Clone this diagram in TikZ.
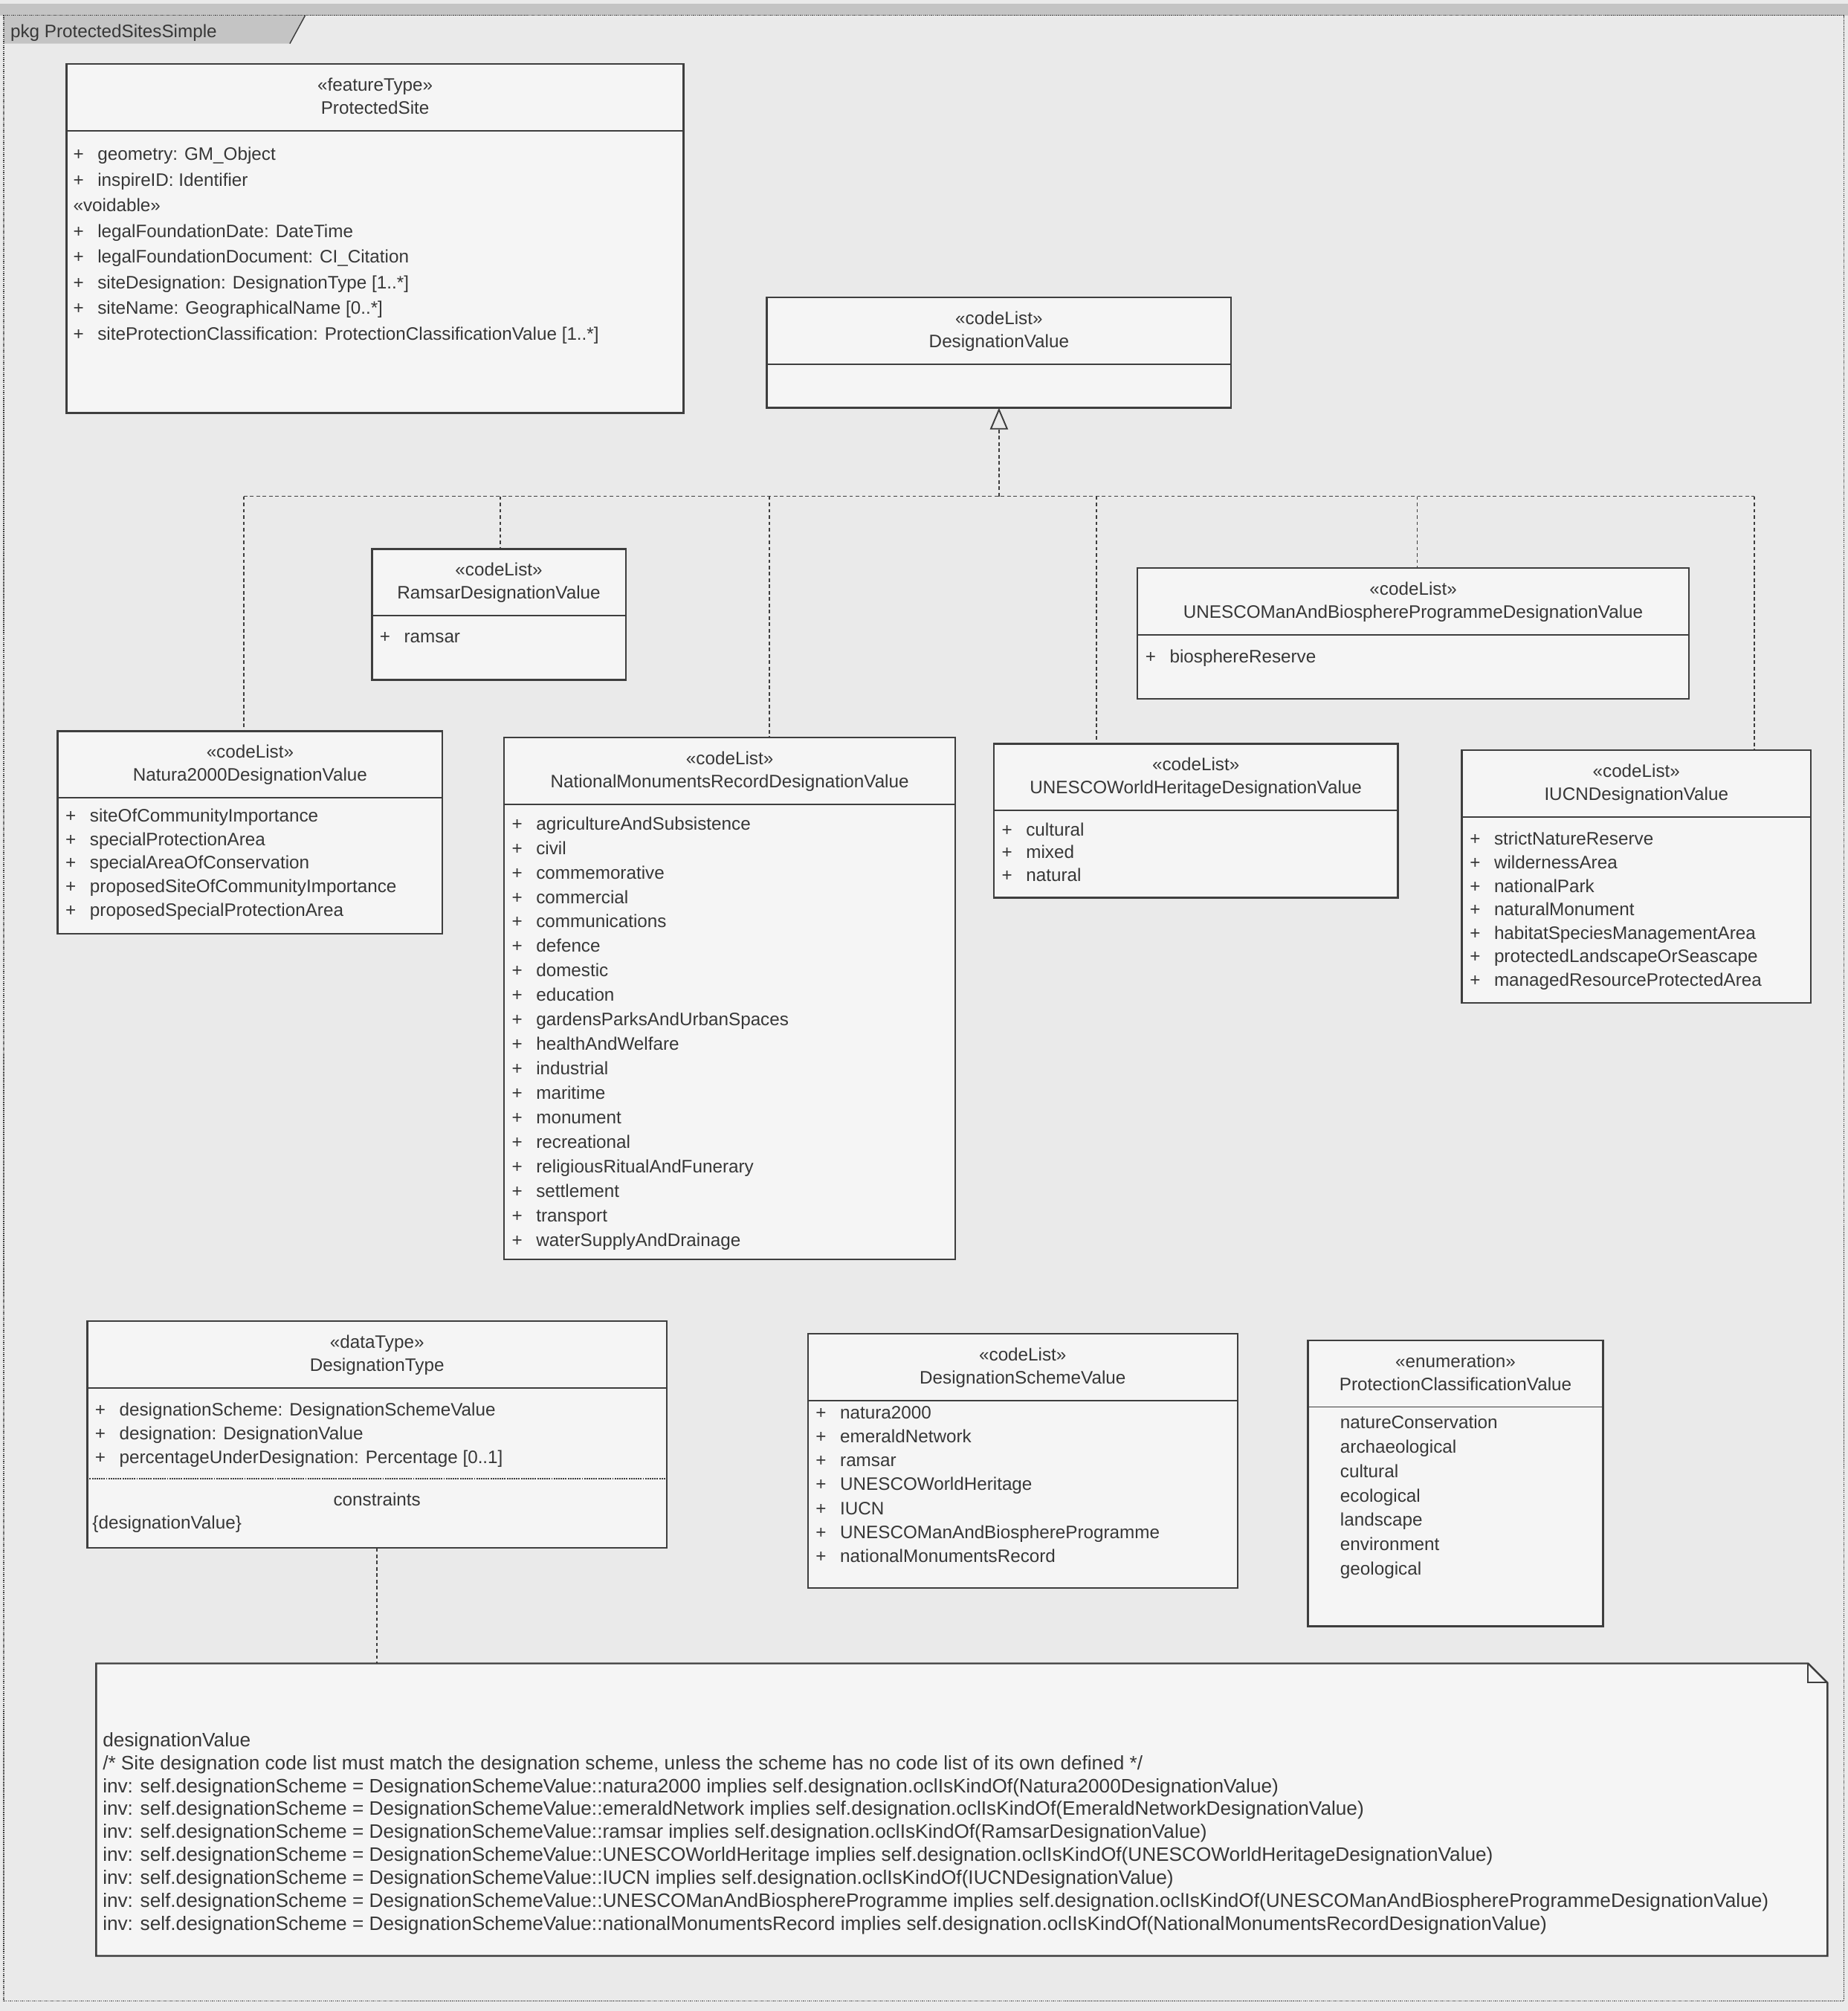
\documentclass[tikz,border=0pt]{standalone}
\usepackage{fontspec}
\setmainfont{Liberation Sans}
\usetikzlibrary{arrows.meta,fit,calc}
\definecolor{bgc}{RGB}{234,234,234}
\definecolor{boxc}{RGB}{245,245,245}
\definecolor{lc}{RGB}{62,62,62}
\definecolor{tc}{RGB}{55,55,55}
\definecolor{tabc}{RGB}{196,196,196}
\newcommand\vis{\makebox[27pt][l]{+}}
\newcommand\nov{\makebox[27pt][l]{}}
\newcommand\umlclass[7]{%
  \node[cls, fit={(#2,#3) (#4,#5)}] (#1) {};
  \node[hdr] (#1-st) at ({(#2+#4)/2},{#3+21}) {#6};
  \node[hdr] (#1-nm) at ({(#2+#4)/2},{#3+39}) {#7};
  \draw[div] ($(#1.north west)+(0,52)$) -- ($(#1.north east)+(0,52)$);
}
\newcommand\umlitems[5]{%
  \foreach \t [count=\i] in {#5} {\node[itm] (#1-\i) at (#2,{#3+(\i-1)*#4}) {\t};}
}
\begin{document}
\begin{tikzpicture}[x=0.05cm, y=-0.05cm,
  cls/.style={draw=lc, line width=2pt, fill=boxc, inner sep=0pt, outer sep=0pt},
  conn/.style={draw=lc, line width=1.3pt, dash pattern=on 4pt off 3pt},
  div/.style={draw=lc, line width=1.6pt},
  hdr/.style={anchor=base, inner sep=0pt, text=tc, font=\fontsize{20}{24}\selectfont},
  itm/.style={anchor=base west, inner sep=0pt, text=tc, font=\fontsize{20}{24}\selectfont},
  ocl/.style={anchor=base west, inner sep=0pt, text=tc, font=\fontsize{21.6}{24}\selectfont},
]
\useasboundingbox (0,0) rectangle (1441,1568);
\fill[bgc] (0,0) rectangle (1441,1568);

% package frame
\fill[tabc] (0,3) rectangle (1441,12);
\fill[tabc] (3,12) -- (238,12) -- (226,34) -- (3,34) -- cycle;
\draw[lc, line width=1.2pt] (238,12) -- (226,34);
\node[fit={(3,12) (1438,1560)}, inner sep=0pt, draw=lc, line width=1.2pt, densely dotted] (frame) {};
\node[itm] (tab) at (8,29) {pkg ProtectedSitesSimple};

% junctions of the generalization tree
\coordinate (j1) at (190,387);
\coordinate (j2) at (390,387);
\coordinate (j3) at (600,387);
\coordinate (jb) at (779,387);
\coordinate (j4) at (855,387);
\coordinate (j5) at (1105,387);
\coordinate (j6) at (1368,387);

% ProtectedSite
\umlclass{ps}{52}{50}{533}{322}{«featureType»}{ProtectedSite}
\umlitems{psi}{57}{125}{20}{{\vis geometry: GM\_Object},{\vis inspireID: Identifier},{«voidable»},{\vis legalFoundationDate: DateTime},{\vis legalFoundationDocument: CI\_Citation},{\vis siteDesignation: DesignationType [1..*]},{\vis siteName: GeographicalName [0..*]},{\vis siteProtectionClassification: ProtectionClassificationValue [1..*]}}

% DesignationValue
\umlclass{dv}{598}{232}{960}{318}{«codeList»}{DesignationValue}

% Ramsar
\umlclass{ram}{290}{428}{488}{530}{«codeList»}{RamsarDesignationValue}
\umlitems{rami}{296}{501}{18}{{\vis ramsar}}

% UNESCO MAB
\umlclass{mab}{887}{443}{1317}{545}{«codeList»}{UNESCOManAndBiosphereProgrammeDesignationValue}
\umlitems{mabi}{893}{517}{18}{{\vis biosphereReserve}}

% Natura2000
\umlclass{n2k}{45}{570}{345}{728}{«codeList»}{Natura2000DesignationValue}
\umlitems{n2ki}{51}{641}{18.3}{{\vis siteOfCommunityImportance},{\vis specialProtectionArea},{\vis specialAreaOfConservation},{\vis proposedSiteOfCommunityImportance},{\vis proposedSpecialProtectionArea}}

% National Monuments Record
\umlclass{nmr}{393}{575}{745}{982}{«codeList»}{NationalMonumentsRecordDesignationValue}
\umlitems{nmri}{399}{647}{19.1}{{\vis agricultureAndSubsistence},{\vis civil},{\vis commemorative},{\vis commercial},{\vis communications},{\vis defence},{\vis domestic},{\vis education},{\vis gardensParksAndUrbanSpaces},{\vis healthAndWelfare},{\vis industrial},{\vis maritime},{\vis monument},{\vis recreational},{\vis religiousRitualAndFunerary},{\vis settlement},{\vis transport},{\vis waterSupplyAndDrainage}}

% UNESCO World Heritage
\umlclass{wh}{775}{580}{1090}{700}{«codeList»}{UNESCOWorldHeritageDesignationValue}
\umlitems{whi}{781}{652}{17.5}{{\vis cultural},{\vis mixed},{\vis natural}}

% IUCN
\umlclass{iucn}{1140}{585}{1412}{782}{«codeList»}{IUCNDesignationValue}
\umlitems{iucni}{1146}{659}{18.3}{{\vis strictNatureReserve},{\vis wildernessArea},{\vis nationalPark},{\vis naturalMonument},{\vis habitatSpeciesManagementArea},{\vis protectedLandscapeOrSeascape},{\vis managedResourceProtectedArea}}

% DesignationType
\umlclass{dt}{68}{1030}{520}{1207}{«dataType»}{DesignationType}
\umlitems{dti}{74}{1104}{18.5}{{\vis designationScheme: DesignationSchemeValue},{\vis designation: DesignationValue},{\vis percentageUnderDesignation: Percentage [0..1]}}
\draw[lc, line width=1.6pt, densely dotted] ($(dt.north west)+(0,123)$) -- ($(dt.north east)+(0,123)$);
\node[hdr] (dt-con) at (294,1174) {constraints};
\node[itm] (dt-c1) at (72,1192) {\{designationValue\}};

% DesignationSchemeValue
\umlclass{dsv}{630}{1040}{965}{1238}{«codeList»}{DesignationSchemeValue}
\umlitems{dsvi}{636}{1106}{18.7}{{\vis natura2000},{\vis emeraldNetwork},{\vis ramsar},{\vis UNESCOWorldHeritage},{\vis IUCN},{\vis UNESCOManAndBiosphereProgramme},{\vis nationalMonumentsRecord}}

% ProtectionClassificationValue
\umlclass{pcv}{1020}{1045}{1250}{1268}{«enumeration»}{ProtectionClassificationValue}
\umlitems{pcvi}{1026}{1114}{19}{{\nov natureConservation},{\nov archaeological},{\nov cultural},{\nov ecological},{\nov landscape},{\nov environment},{\nov geological}}

% note
\node[fit={(75,1297) (1425,1525)}, inner sep=0pt, outer sep=0pt] (note) {};
\draw[lc, line width=2pt, fill=boxc] (note.north west) -- ($(note.north east)+(-15,0)$) -- ($(note.north east)+(0,15)$) -- (note.south east) -- (note.south west) -- cycle;
\draw[lc, line width=1.6pt] ($(note.north east)+(-15,0)$) -- ($(note.north east)+(-15,15)$) -- ($(note.north east)+(0,15)$);
\node[ocl] (n0) at (80,1362) {designationValue};
\node[ocl] (n1) at (80,1380) {/* Site designation code list must match the designation scheme, unless the scheme has no code list of its own defined */};
\node[ocl] (n2) at (80,1398) {inv: self.designationScheme = DesignationSchemeValue::natura2000 implies self.designation.oclIsKindOf(Natura2000DesignationValue)};
\node[ocl] (n3) at (80,1415) {inv: self.designationScheme = DesignationSchemeValue::emeraldNetwork implies self.designation.oclIsKindOf(EmeraldNetworkDesignationValue)};
\node[ocl] (n4) at (80,1433) {inv: self.designationScheme = DesignationSchemeValue::ramsar implies self.designation.oclIsKindOf(RamsarDesignationValue)};
\node[ocl] (n5) at (80,1451) {inv: self.designationScheme = DesignationSchemeValue::UNESCOWorldHeritage implies self.designation.oclIsKindOf(UNESCOWorldHeritageDesignationValue)};
\node[ocl] (n6) at (80,1469) {inv: self.designationScheme = DesignationSchemeValue::IUCN implies self.designation.oclIsKindOf(IUCNDesignationValue)};
\node[ocl] (n7) at (80,1487) {inv: self.designationScheme = DesignationSchemeValue::UNESCOManAndBiosphereProgramme implies self.designation.oclIsKindOf(UNESCOManAndBiosphereProgrammeDesignationValue)};
\node[ocl] (n8) at (80,1505) {inv: self.designationScheme = DesignationSchemeValue::nationalMonumentsRecord implies self.designation.oclIsKindOf(NationalMonumentsRecordDesignationValue)};

% connectors
\draw[conn] (j1) -- (j6);
\draw[conn] (j1) -- (j1 |- n2k.north);
\draw[conn] (j2) -- (j2 |- ram.north);
\draw[conn] (j3) -- (j3 |- nmr.north);
\draw[conn] (j4) -- (j4 |- wh.north);
\draw[conn] (j5) -- (j5 |- mab.north);
\draw[conn] (j6) -- (j6 |- iucn.north);
\draw[conn, -{Triangle[open, length=24pt, width=20pt, line width=1.6pt]}] (jb) -- (dv.south);
\draw[conn] (dt.south) -- (dt.south |- note.north);
\end{tikzpicture}
\end{document}
